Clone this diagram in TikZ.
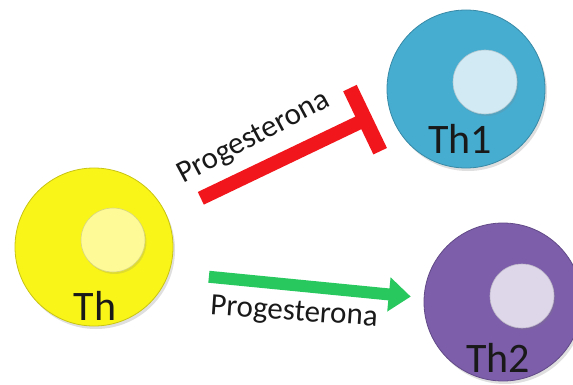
\documentclass[tikz,border=0pt]{standalone}
\usepackage{fontspec}
\setmainfont{Carlito}
\usetikzlibrary{arrows.meta, shadows}

\definecolor{thyellow}{RGB}{250,245,25}
\definecolor{thblue}{RGB}{70,172,208}
\definecolor{thpurple}{RGB}{124,94,170}
\definecolor{barred}{RGB}{240,22,28}
\definecolor{bargreen}{RGB}{40,200,95}

\tikzset{
  cell/.style={circle, minimum size=158pt, inner sep=0pt, fill=#1,
    draw=#1!80!black, line width=0.8pt,
    drop shadow={opacity=0.25, shadow xshift=2pt, shadow yshift=-3pt}},
  nucleus/.style={circle, minimum size=64pt, inner sep=0pt, fill=#1,
    draw=#1!85!black, line width=0.6pt,
    drop shadow={opacity=0.2, shadow xshift=1.5pt, shadow yshift=-2pt}},
  celltext/.style={font=\fontsize{42}{42}\selectfont, text=black!90,
    anchor=base, text depth=0pt, inner sep=1pt},
  hormone/.style={font=\fontsize{31}{31}\selectfont, text=black!90},
  inhib/.style={draw=barred, line width=14pt,
    -{Rectangle[length=15pt, width=70pt]}},
  promote/.style={draw=bargreen, line width=12pt,
    -{Triangle[length=22pt, width=33pt]}},
}

\begin{document}
\begin{tikzpicture}[x=1pt, y=1pt]
    \useasboundingbox (0,0) rectangle (573,384);

    % cells
    \node[cell=thyellow] (th) at (94,137) {};
    \node[cell=thblue] (th1) at (466,295) {};
    \node[cell=thpurple] (th2) at (503,82) {};

    % nuclei
    \node[nucleus=thyellow!45!white] (th-nuc) at (113,144) {};
    \node[nucleus=thblue!25!white] (th1-nuc) at (485,302) {};
    \node[nucleus=thpurple!25!white] (th2-nuc) at (522,88) {};

    % names (placed on their baselines)
    \node[celltext] (th-lab) at (95,64) {Th};
    \node[celltext] (th1-lab) at (460,231) {Th1};
    \node[celltext] (th2-lab) at (498,12) {Th2};

    % progesterone effects
    \draw[inhib, shorten <=38pt, shorten >=19pt] (th.24.5) -- (th1.194);
    \draw[promote, shorten <=40pt, shorten >=13pt] (th.-19) -- (th2.177);
    \node[hormone, rotate=28] (prog-inhib) at (254,246) {Progesterona};
    \node[hormone, rotate=-4] (prog-promote) at (294,71) {Progesterona};
\end{tikzpicture}
\end{document}
